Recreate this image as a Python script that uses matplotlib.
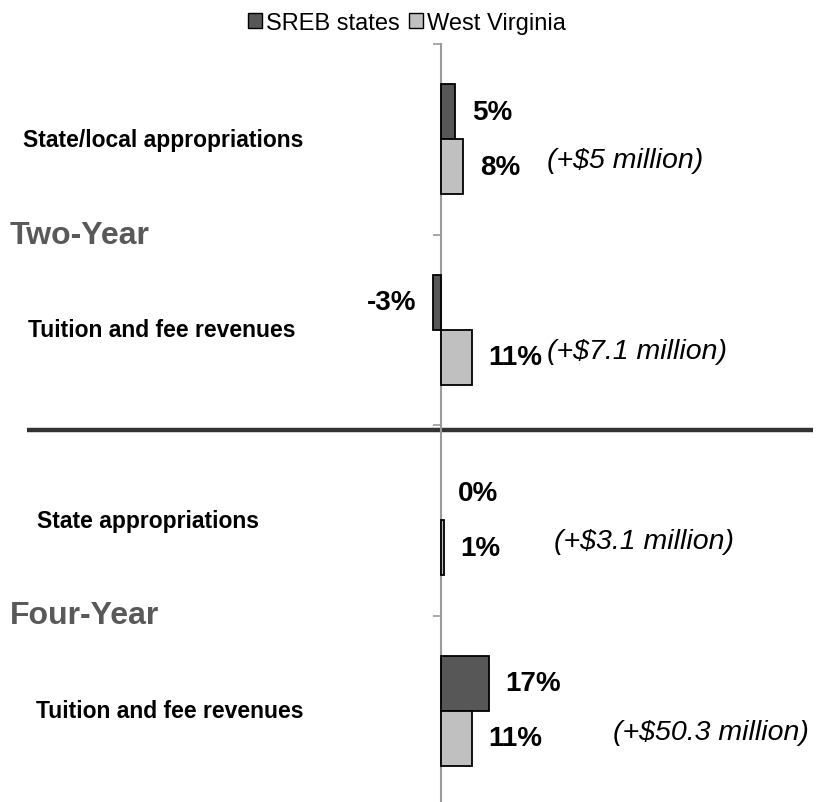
import matplotlib
matplotlib.use("Agg")
import matplotlib.pyplot as plt
from matplotlib.transforms import blended_transform_factory
from matplotlib.patches import Patch

plt.rcParams["font.family"] = ["Liberation Sans", "DejaVu Sans"]

# data
categories = ["State/local appropriations", "Tuition and fee revenues",
              "State appropriations", "Tuition and fee revenues"]
sreb = [5, -3, 0, 17]
wv = [8, 11, 1, 11]
notes = ["(+$5 million)", "(+$7.1 million)", "(+$3.1 million)", "(+$50.3 million)"]
groups = ["Two-Year", "Four-Year"]

SREB_C = "#575757"
WV_C = "#c0c0c0"

fig = plt.figure(figsize=(8.17, 8.03), dpi=100)
ax = fig.add_axes([27 / 817, -4 / 803, 786 / 817, 762 / 803])

h = 0.289
y = list(range(len(categories)))
b1 = ax.barh([i - h / 2 for i in y], sreb, height=h, color=SREB_C,
             edgecolor="black", linewidth=[0 if v == 0 else 1.3 for v in sreb])
b2 = ax.barh([i + h / 2 for i in y], wv, height=h, color=WV_C,
             edgecolor="black", linewidth=[0 if v == 0 else 1.3 for v in wv])

ax.set_xlim(-148, 133)
ax.set_ylim(len(categories) - 0.5, -0.5)

for spine in ["top", "right", "bottom"]:
    ax.spines[spine].set_visible(False)
ax.spines["left"].set_position(("data", 0))
ax.spines["left"].set_color("#9a9a9a")
ax.spines["left"].set_linewidth(1.5)
ax.spines["left"].set_zorder(0.5)
ax.set_xticks([])
ax.set_yticks([i - 0.5 for i in range(len(categories) + 1)])
ax.set_yticklabels([])
ax.tick_params(axis="y", direction="out", length=6, width=1.2, color="#9a9a9a")

# value labels
for bars, vals in [(b1, sreb), (b2, wv)]:
    for bar, v in zip(bars, vals):
        yc = bar.get_y() + bar.get_height() / 2
        off = 12 if v >= 0 else -12
        ax.annotate(f"{v}%", (v, yc), xytext=(off, 0), textcoords="offset points",
                    ha="left" if v >= 0 else "right", va="center",
                    fontsize=20, fontweight="bold", color="black")

# dollar notes
note_x = [38, 38, 40.5, 61.5]
for i, (nx, txt) in enumerate(zip(note_x, notes)):
    ax.text(nx, i + 0.11, txt, ha="left", va="center", fontsize=20.5,
            style="italic", color="black")

# category labels
trans = blended_transform_factory(fig.transFigure, ax.transData)
cat_x = [163, 162, 148, 170]
for i, (cx, lab) in enumerate(zip(cat_x, categories)):
    ax.text(cx / 817, i, lab, transform=trans, ha="center", va="center",
            fontsize=16.5, fontweight="bold")

# group labels
for gy, g in zip([0.5, 2.5], groups):
    ax.text(10 / 817, gy, g, transform=trans, ha="left", va="center",
            fontsize=23, fontweight="bold", color="#595959")

# divider between two-year and four-year
ax.axhline(1.525, xmin=0, xmax=1, color="#333333", linewidth=3.2, zorder=0.4)

handles = [Patch(facecolor=SREB_C, edgecolor="black", linewidth=1),
           Patch(facecolor=WV_C, edgecolor="black", linewidth=1)]
fig.legend(handles, ["SREB states", "West Virginia"], loc="center",
           bbox_to_anchor=(407 / 817, 1 - 24 / 803), ncol=2, frameon=False,
           fontsize=17, handlelength=0.6, handleheight=0.6, handletextpad=0.15,
           columnspacing=0.4)

fig.savefig("out.png", dpi=100)
